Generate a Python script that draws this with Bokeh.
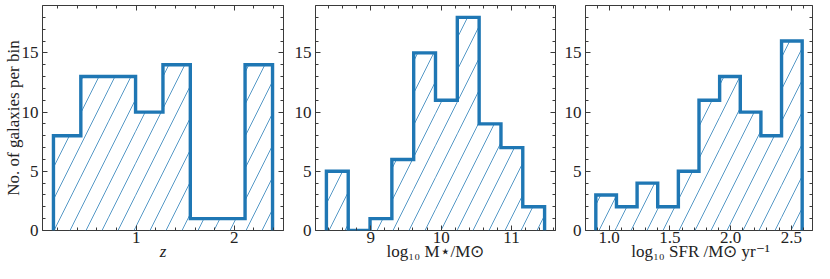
from bokeh.plotting import figure
from bokeh.models import Range1d, LinearAxis, SingleIntervalTicker, CustomJSTickFormatter, PrintfTickFormatter
from bokeh.layouts import row
from bokeh.embed import file_html
from bokeh.resources import INLINE

# ---- data ----
z_edges = [0.157, 0.436, 0.715, 0.994, 1.273, 1.552, 1.831, 2.110, 2.390]
z_counts = [8, 13, 13, 10, 14, 1, 1, 14]

mass_edges = [8.37, 8.68, 8.99, 9.30, 9.61, 9.92, 10.23, 10.54, 10.85, 11.16, 11.47]
mass_counts = [5, 0, 1, 6, 15, 11, 18, 9, 7, 2]

sfr_edges = [0.89, 1.06, 1.23, 1.40, 1.57, 1.74, 1.91, 2.08, 2.25, 2.42, 2.59]
sfr_counts = [3, 2, 4, 2, 5, 11, 13, 10, 8, 16]

x_labels = ["z", "log\u2081\u2080 M\u22c6/M\u2299", "log\u2081\u2080 SFR /M\u2299 yr\u207b\u00b9"]
x_tick_steps = [1, 1, 0.5]
x_tick_formats = ["%d", "%d", "%.1f"]
y_label = "No. of galaxies per bin"
y_max = 19.0

BLUE = "#1f77b4"
INK = "#222222"
FRAME = "#3a3a3a"
FONT = "'Liberation Serif', 'Times New Roman', serif"
FS = "17px"
H = 263


def style_axis(ax, show_labels):
    ax.axis_line_color = None
    ax.major_tick_in = 5
    ax.major_tick_out = 0
    ax.minor_tick_in = 3
    ax.minor_tick_out = 0
    ax.major_tick_line_color = FRAME
    ax.minor_tick_line_color = FRAME
    ax.major_label_text_font = FONT
    ax.major_label_text_font_size = FS
    ax.major_label_text_color = INK
    ax.axis_label_text_font = FONT
    ax.axis_label_text_font_size = FS
    ax.axis_label_text_color = INK
    ax.axis_label_text_font_style = "normal"
    if not show_labels:
        ax.formatter = CustomJSTickFormatter(code="return ''")
        ax.major_label_text_font_size = "0px"
        ax.major_label_standoff = 0
        ax.axis_label_standoff = 0


def make_panel(edges, counts, xlabel, step, fmt, width, bl, br, ylabel=None, italic=False):
    lo, hi = edges[0], edges[-1]
    pad = 0.05 * (hi - lo)
    p = figure(width=width, height=H,
               x_range=Range1d(lo - pad, hi + pad), y_range=Range1d(0, y_max),
               output_backend="svg", toolbar_location=None,
               min_border_left=bl, min_border_right=br,
               min_border_top=5, min_border_bottom=30)
    p.grid.visible = False
    p.outline_line_color = FRAME
    p.outline_line_width = 1
    p.background_fill_color = "white"
    p.border_fill_color = "white"

    xt = SingleIntervalTicker(interval=step, num_minor_ticks=5)
    yt = SingleIntervalTicker(interval=5, num_minor_ticks=5)

    xa = p.xaxis[0]
    ya = p.yaxis[0]
    xa.ticker = xt
    ya.ticker = yt
    style_axis(xa, True)
    style_axis(ya, True)
    xa.formatter = PrintfTickFormatter(format=fmt)
    xa.major_label_standoff = 1
    ya.major_label_standoff = 4
    xa.axis_label = xlabel
    xa.axis_label_standoff = -4
    if italic:
        xa.axis_label_text_font_style = "italic"
    if ylabel:
        ya.axis_label = ylabel
        ya.axis_label_standoff = -4

    top = LinearAxis(ticker=xt)
    style_axis(top, False)
    p.add_layout(top, "above")
    right = LinearAxis(ticker=yt)
    style_axis(right, False)
    p.add_layout(right, "right")

    p.quad(left=edges[:-1], right=edges[1:], bottom=0, top=counts,
           fill_color=None, line_color=None,
           hatch_pattern="/", hatch_color=BLUE, hatch_alpha=0.85,
           hatch_scale=32, hatch_weight=0.9)

    xs = [edges[0]]
    ys = [0]
    for i, c in enumerate(counts):
        xs += [edges[i], edges[i + 1]]
        ys += [c, c]
    xs.append(edges[-1])
    ys.append(0)
    p.line(xs, ys, line_color=BLUE, line_width=3.4, line_join="miter")
    return p


p1 = make_panel(z_edges, z_counts, x_labels[0], x_tick_steps[0], x_tick_formats[0], 291, 42, 8,
                ylabel=y_label, italic=True)
p2 = make_panel(mass_edges, mass_counts, x_labels[1], x_tick_steps[1], x_tick_formats[1], 270, 22, 6)
p3 = make_panel(sfr_edges, sfr_counts, x_labels[2], x_tick_steps[2], x_tick_formats[2], 253, 22, 2)

layout = row(p1, p2, p3)
open("out.html", "w").write(file_html(layout, INLINE))
